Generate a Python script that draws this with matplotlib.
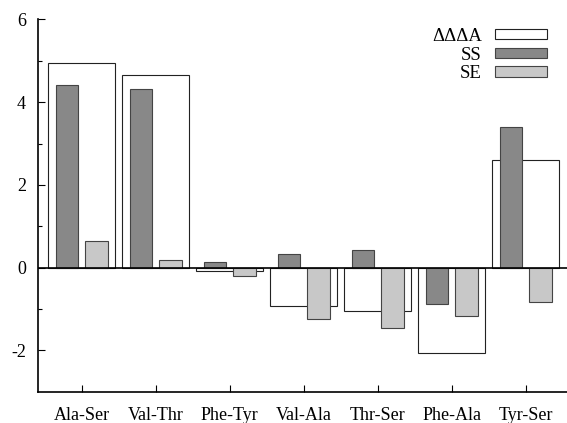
import numpy as np
import matplotlib
matplotlib.use("Agg")
import matplotlib.pyplot as plt

plt.rcParams['font.family'] = ['Liberation Serif', 'DejaVu Serif']
plt.rcParams['font.size'] = 13
plt.rcParams['axes.unicode_minus'] = False

pairs = ["Ala-Ser", "Val-Thr", "Phe-Tyr", "Val-Ala", "Thr-Ser", "Phe-Ala", "Tyr-Ser"]
dddA = [4.94, 4.65, -0.08, -0.92, -1.06, -2.06, 2.61]
ss = [4.41, 4.31, 0.14, 0.32, 0.42, -0.87, 3.40]
se = [0.65, 0.18, -0.20, -1.25, -1.46, -1.17, -0.84]

x = np.arange(len(pairs))

fig = plt.figure(figsize=(5.67, 4.23), dpi=100)
ax = fig.add_axes([0.0675, 0.074, 0.9325, 0.880])

edge = "#444444"
ax.bar(x, dddA, width=0.9, color="white", edgecolor="#222222", linewidth=0.8, label="\u0394\u0394\u0394A", zorder=2)
ax.bar(x - 0.2, ss, width=0.3, color="#888888", edgecolor=edge, linewidth=0.8, label="SS", zorder=3)
ax.bar(x + 0.2, se, width=0.3, color="#c8c8c8", edgecolor=edge, linewidth=0.8, label="SE", zorder=3)

ax.axhline(0, color="black", linewidth=1.2, zorder=4)

ax.set_xlim(-0.587, 6.558)
ax.set_ylim(-3, 6)
ax.set_xticks(x)
ax.set_xticklabels(pairs)
ax.set_yticks([-2, 0, 2, 4, 6])
ax.set_yticks([-1, 1, 3, 5], minor=True)
ax.tick_params(axis="both", direction="in", length=5, width=0.8)
ax.tick_params(axis="y", which="minor", direction="in", length=3, width=0.8)
ax.tick_params(axis="y", pad=9)
ax.tick_params(axis="x", pad=11)

for side in ["top", "right"]:
    ax.spines[side].set_visible(False)
ax.spines["left"].set_linewidth(1.2)
ax.spines["bottom"].set_linewidth(1.2)

ax.legend(loc="upper right", bbox_to_anchor=(0.963, 0.978), frameon=False,
          markerfirst=False, handlelength=2.8, handleheight=0.5, fontsize=13.5,
          labelspacing=0.1, borderpad=0, borderaxespad=0, handletextpad=0.7)

fig.savefig("out.png", dpi=100)
